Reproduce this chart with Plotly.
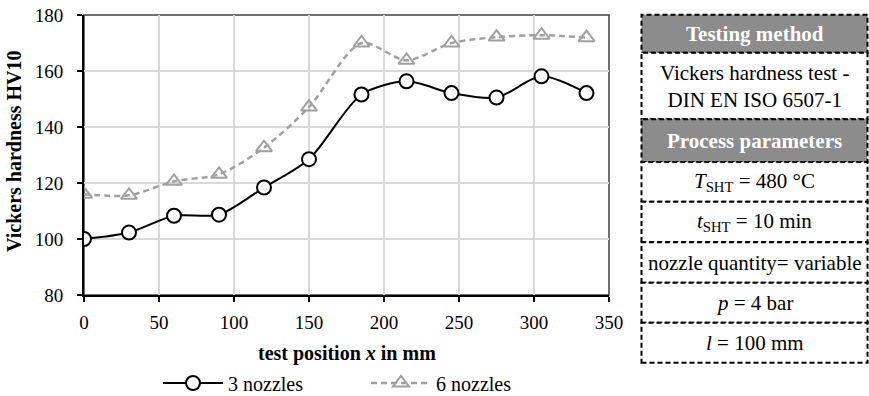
import plotly.graph_objects as go

# ---- data ----
positions = [0, 30, 60, 90, 120, 150, 185, 215, 245, 275, 305, 335]
hv_3_nozzles = [100, 102.3, 108.3, 108.7, 118.4, 128.5, 151.6, 156.3, 152.1, 150.5, 158.1, 152.1]
hv_6_nozzles = [116, 115.6, 120.6, 123.1, 132.6, 147.1, 170, 163.8, 170, 172.1, 172.8, 171.9]
series_names = ["3 nozzles", "6 nozzles"]
x_ticks = [0, 50, 100, 150, 200, 250, 300, 350]
y_ticks = [80, 100, 120, 140, 160, 180]
table_rows = [
    "<b>Testing method</b>",
    "Vickers hardness test -<br>DIN EN ISO 6507-1",
    "<b>Process parameters</b>",
    "<i>T</i><sub>SHT</sub> = 480 °C",
    "<i>t</i><sub>SHT</sub> = 10 min",
    "nozzle quantity= variable",
    "<i>p</i> = 4 bar",
    "<i>l</i> = 100 mm",
]
table_header_rows = [0, 2]

FONT = "Liberation Serif, Times New Roman, serif"
W, H = 869, 396
ML, MR, MT, MB = 84, 260, 15, 101
PW = W - ML - MR
PH = H - MT - MB


def px_x(px):
    return (px - ML) / PW


def px_y(py):
    return (H - MB - py) / PH


fig = go.Figure()
fig.add_trace(go.Scatter(
    x=positions, y=hv_3_nozzles, name=series_names[0], mode="lines+markers",
    line=dict(color="black", width=2, shape="spline", smoothing=0.8),
    marker=dict(symbol="circle", size=14, color="white", line=dict(color="black", width=2)),
))
fig.add_trace(go.Scatter(
    x=positions, y=hv_6_nozzles, name=series_names[1], mode="lines+markers",
    line=dict(color="#a0a0a0", width=2.5, dash="6px,4px", shape="spline", smoothing=0.8),
    marker=dict(symbol="triangle-up-open", size=14, color="#a0a0a0", line=dict(color="#a0a0a0", width=2)),
))

axis_common = dict(
    showgrid=True, gridcolor="#d9d9d9", gridwidth=1.5,
    showline=True, linecolor="black", linewidth=2,
    ticks="outside", ticklen=5, tickwidth=1.5, tickcolor="black",
    tickfont=dict(family=FONT, size=19, color="black"),
    zeroline=False, fixedrange=True,
)
fig.update_xaxes(range=[0, 350], tickvals=x_ticks, ticklabelstandoff=4, **axis_common)
fig.update_yaxes(range=[80, 180], tickvals=y_ticks, ticklabelstandoff=10, **axis_common)

shapes = [dict(type="rect", xref="paper", yref="paper", x0=0, x1=1, y0=0, y1=1,
               line=dict(color="#404040", width=1.5), layer="below")]
annotations = [
    dict(text="<b>test position <i>x</i> in mm</b>", xref="paper", yref="paper",
         x=0.5, y=px_y(353), showarrow=False,
         font=dict(family=FONT, size=20, color="black"), xanchor="center", yanchor="middle"),
    dict(text="<b>Vickers hardness HV10</b>", xref="paper", yref="paper",
         x=px_x(14), y=px_y(152), textangle=-90, showarrow=False,
         font=dict(family=FONT, size=20, color="black"), xanchor="center", yanchor="middle"),
]

row_edges = [14.7, 52.7, 119.3, 162, 201.7, 242.3, 282.7, 322.7, 362.7]
tx0, tx1 = 641.5, 867.5
for i, txt in enumerate(table_rows):
    header = i in table_header_rows
    y0, y1 = row_edges[i], row_edges[i + 1]
    shapes.append(dict(type="rect", xref="paper", yref="paper",
                       x0=px_x(tx0), x1=px_x(tx1), y0=px_y(y1), y1=px_y(y0),
                       fillcolor="#8c8c8c" if header else "white",
                       line=dict(color="black", width=2, dash="5px,3px")))
    annotations.append(dict(text=txt, xref="paper", yref="paper",
                            x=px_x((tx0 + tx1) / 2), y=px_y((y0 + y1) / 2),
                            showarrow=False, xanchor="center", yanchor="middle",
                            font=dict(family=FONT, size=21, color="white" if header else "black")))

fig.update_layout(
    width=W, height=H,
    margin=dict(l=ML, r=MR, t=MT, b=MB, autoexpand=False),
    paper_bgcolor="white", plot_bgcolor="white",
    font=dict(family=FONT, size=20, color="black"),
    showlegend=True,
    legend=dict(orientation="h", x=px_x(366), xanchor="center", y=px_y(383), yanchor="middle",
                font=dict(family=FONT, size=20, color="black"), bgcolor="rgba(0,0,0,0)",
                itemwidth=60, entrywidth=133, entrywidthmode="pixels"),
    shapes=shapes, annotations=annotations,
)

fig.write_html("out.html")
